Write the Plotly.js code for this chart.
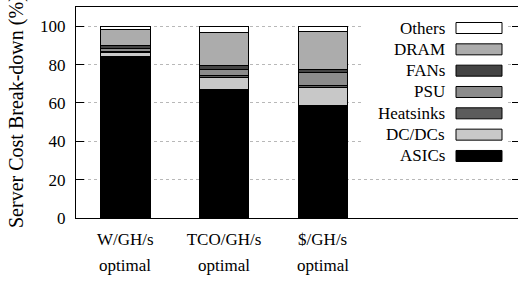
<!DOCTYPE html>
<html>
<head>
<meta charset="utf-8">
<script src="https://cdn.plot.ly/plotly-3.0.1.min.js"></script>
<style>
html,body{margin:0;padding:0;overflow:hidden;background:#fff;}
#chart{width:520px;height:282px;}
</style>
</head>
<body>
<div id="chart"></div>
<script>
// ---- data ----
const categoriesLine1 = ["W/GH/s", "TCO/GH/s", "$/GH/s"];
const categoriesLine2 = ["optimal", "optimal", "optimal"];
const seriesNames = ["ASICs", "DC/DCs", "Heatsinks", "PSU", "FANs", "DRAM", "Others"];
const asics     = [84.0, 67.0, 58.6];
const dcdcs     = [2.3, 6.4, 9.6];
const heatsinks = [0.7, 1.0, 1.0];
const psu       = [1.4, 3.0, 6.5];
const fans      = [1.7, 2.2, 1.7];
const dram      = [8.2, 17.3, 19.6];
const others    = [1.7, 3.1, 3.0];
const yTicks    = [0, 20, 40, 60, 80, 100];

const seriesValues = [asics, dcdcs, heatsinks, psu, fans, dram, others];
const colors = ["#000000", "#c8c8c8", "#5c5c5c", "#8c8c8c", "#444444", "#acacac", "#ffffff"];

const FONT = "Liberation Serif, Times New Roman, serif";
const xIdx = categoriesLine1.map((c, i) => i);

const traces = seriesNames.map((name, k) => ({
  type: "bar",
  name: name,
  x: xIdx,
  y: seriesValues[k],
  width: 0.5,
  marker: {color: colors[k], line: {color: "#000", width: 1}},
  showlegend: false,
  hoverinfo: "skip"
}));

// layout geometry (pixels)
const W = 520, H = 282, L = 76, T = 7, B = 64, R = 0;
const pw = W - L - R, ph = H - T - B;
const px2x = p => (p - L) / pw;
const py2y = p => (H - B - p) / ph;

const shapes = [];
const annotations = [];
// opaque legend box
shapes.push({type: "rect", xref: "paper", yref: "paper", layer: "above",
  x0: px2x(364), x1: px2x(508), y0: py2y(168), y1: py2y(15),
  fillcolor: "#fff", line: {width: 0}});
const rowTop = 28, rowStep = 21.33;
for (let r = 0; r < seriesNames.length; r++) {
  const k = seriesNames.length - 1 - r;
  const cy = rowTop + r * rowStep;
  shapes.push({type: "rect", xref: "paper", yref: "paper", layer: "above",
    x0: px2x(456), x1: px2x(502), y0: py2y(cy + 5.5), y1: py2y(cy - 5.5),
    fillcolor: colors[k], line: {color: "#000", width: 1}});
  annotations.push({xref: "paper", yref: "paper", x: px2x(447), y: py2y(cy),
    xanchor: "right", yanchor: "middle", showarrow: false, text: seriesNames[k],
    font: {family: FONT, size: 17, color: "#000"}});
}
// second line of category labels
categoriesLine2.forEach((t, i) => {
  annotations.push({xref: "x", yref: "paper", x: xIdx[i], y: py2y(265),
    xanchor: "center", yanchor: "middle", showarrow: false, text: t,
    font: {family: FONT, size: 17, color: "#000"}});
});
// y-axis title
annotations.push({xref: "paper", yref: "paper", x: px2x(16), y: py2y(112),
  xanchor: "center", yanchor: "middle", showarrow: false, textangle: -90,
  text: "Server Cost Break-down (%)", font: {family: FONT, size: 20, color: "#000"}});

const layout = {
  width: W, height: H,
  margin: {l: L, r: R, t: T, b: B, pad: 0},
  paper_bgcolor: "#fff", plot_bgcolor: "#fff",
  barmode: "stack",
  font: {family: FONT, size: 17, color: "#000"},
  xaxis: {
    range: [-0.5, 4.0], tickvals: xIdx, ticktext: categoriesLine1,
    ticks: "", showgrid: false, zeroline: false, ticklabelstandoff: 6,
    showline: true, linecolor: "#000", linewidth: 1, mirror: true,
    tickfont: {family: FONT, size: 17, color: "#000"}
  },
  yaxis: {
    range: [0, 110], tickvals: yTicks, ticktext: yTicks.map(String),
    ticks: "inside", ticklen: 8, tickcolor: "#000", tickwidth: 1,
    ticklabelstandoff: 6,
    showgrid: true, gridcolor: "#b8b8b8", griddash: "dot", gridwidth: 1,
    zeroline: false, showline: true, linecolor: "#000", linewidth: 1, mirror: "ticks",
    tickfont: {family: FONT, size: 17, color: "#000"}
  },
  shapes: shapes,
  annotations: annotations,
  showlegend: false
};

Plotly.newPlot("chart", traces, layout, {displayModeBar: false, staticPlot: true});
</script>
</body>
</html>
